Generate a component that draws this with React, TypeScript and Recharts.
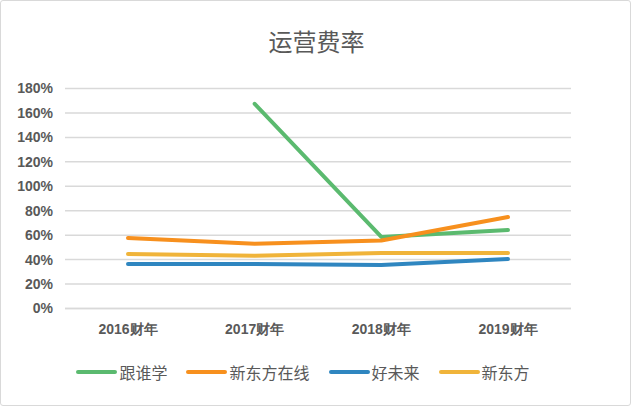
import { CartesianGrid, Legend, Line, LineChart, XAxis, YAxis } from "recharts";

const years = ["2016财年", "2017财年", "2018财年", "2019财年"];
const genshui = [null, 1.675, 0.586, 0.642];
const xdfOnline = [0.577, 0.53, 0.556, 0.748];
const tal = [0.364, 0.364, 0.356, 0.405];
const xdf = [0.446, 0.432, 0.455, 0.454];
const yTicks = [0, 0.2, 0.4, 0.6, 0.8, 1, 1.2, 1.4, 1.6, 1.8];

const series = [
  { key: "genshui", name: "跟谁学", color: "#5BBA6F", values: genshui },
  { key: "xdfOnline", name: "新东方在线", color: "#F7901E", values: xdfOnline },
  { key: "tal", name: "好未来", color: "#2F86C0", values: tal },
  { key: "xdf", name: "新东方", color: "#F0B43A", values: xdf },
];

const data = years.map((name, i) => {
  const row: Record<string, string | number | null> = { name };
  series.forEach((s) => (row[s.key] = s.values[i]));
  return row;
});

const textColor = "#595959";
const cjkFont = '"Noto Sans CJK SC", "Noto Sans", sans-serif';
const tickFont = { fill: textColor, fontSize: 14, fontWeight: "bold", fontFamily: '"Liberation Sans", Arial, sans-serif' };

const LegendContent = () => (
  <div
    style={{
      display: "flex",
      justifyContent: "center",
      alignItems: "center",
      height: 20,
      paddingLeft: 34,
      fontFamily: cjkFont,
      fontSize: 16,
      color: textColor,
    }}
  >
    {series.map((s) => (
      <div key={s.key} style={{ display: "flex", alignItems: "center", margin: "0 9.5px" }}>
        <div
          style={{ width: 41, height: 4, borderRadius: 2, background: s.color, marginRight: 2 }}
        />
        <span>{s.name}</span>
      </div>
    ))}
  </div>
);

export default function App() {
  return (
    <div
      style={{
        position: "absolute",
        top: 0,
        left: 0,
        width: 631,
        height: 406,
        boxSizing: "border-box",
        border: "1px solid #d9d9d9",
        borderRadius: 3,
        background: "#fff",
      }}
    >
      <div
        style={{
          position: "absolute",
          top: 25,
          left: 0,
          width: 631,
          textAlign: "center",
          fontFamily: cjkFont,
          fontSize: 24,
          color: textColor,
          lineHeight: "30px",
        }}
      >
        运营费率
      </div>
      <LineChart
        width={629}
        height={404}
        data={data}
        margin={{ top: 87.5, right: 59, left: 0, bottom: 23 }}
      >
        <CartesianGrid vertical={false} stroke="#d9d9d9" strokeWidth={1.5} />
        <XAxis
          dataKey="name"
          axisLine={{ stroke: "#d9d9d9", strokeWidth: 1.5 }}
          tickLine={false}
          tickMargin={10}
          height={53.5}
          padding={{ left: 63, right: 63 }}
          tick={tickFont}
        />
        <YAxis
          width={64}
          domain={[0, 1.8]}
          ticks={yTicks}
          axisLine={false}
          tickLine={false}
          tickMargin={6}
          tickFormatter={(v: number) => `${Math.round(v * 100)}%`}
          tick={tickFont}
        />
        <Legend verticalAlign="bottom" content={<LegendContent />} />
        {series.map((s) => (
          <Line
            key={s.key}
            type="linear"
            dataKey={s.key}
            name={s.name}
            stroke={s.color}
            strokeWidth={4}
            strokeLinecap="round"
            strokeLinejoin="round"
            dot={false}
            activeDot={false}
            isAnimationActive={false}
          />
        ))}
      </LineChart>
    </div>
  );
}
